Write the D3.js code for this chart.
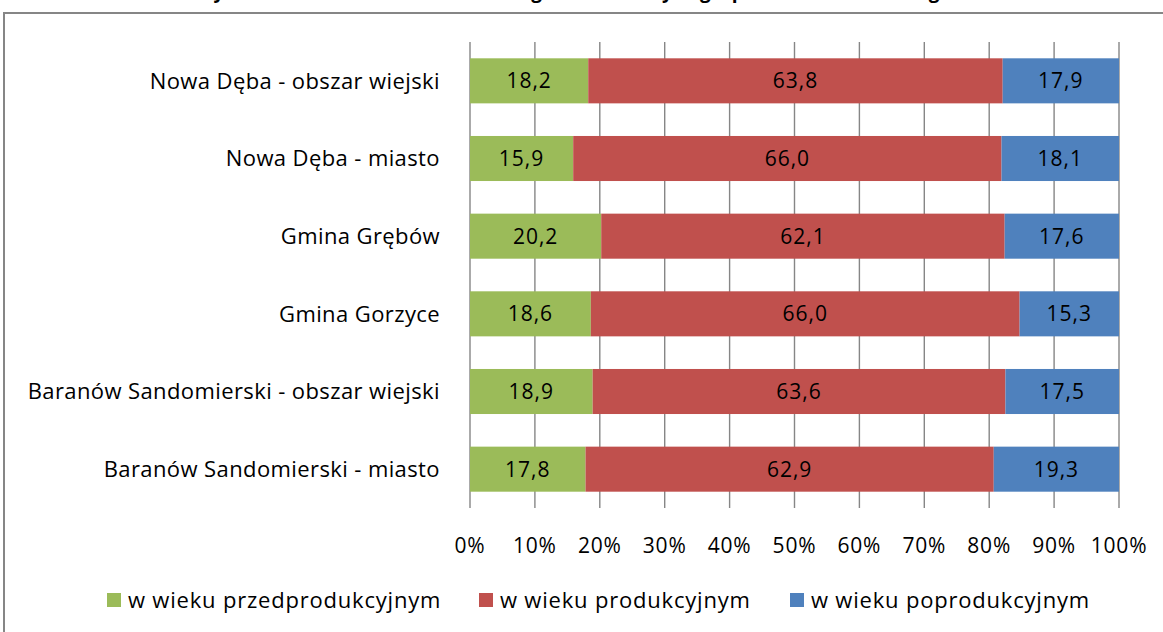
<!DOCTYPE html>
<html>
<head>
<meta charset="utf-8">
<script src="https://cdn.jsdelivr.net/npm/d3@7"></script>
<style>
  body { margin: 0; background: #fff; }
  svg text { font-family: "Open Sans", Lato, sans-serif; fill: #000; }
</style>
</head>
<body>
<svg id="chart" width="1163" height="632"></svg>
<script>
// categories top -> bottom
var categories = [
  "Nowa Dęba - obszar wiejski",
  "Nowa Dęba - miasto",
  "Gmina Grębów",
  "Gmina Gorzyce ",
  "Baranów Sandomierski - obszar wiejski",
  "Baranów Sandomierski - miasto"
];
var seriesNames = ["w wieku przedprodukcyjnym", "w wieku produkcyjnym", "w wieku poprodukcyjnym"];
var przed = [18.2, 15.9, 20.2, 18.6, 18.9, 17.8];
var prod  = [63.8, 66.0, 62.1, 66.0, 63.6, 62.9];
var popr  = [17.9, 18.1, 17.6, 15.3, 17.5, 19.3];
var ticks = [0, 0.1, 0.2, 0.3, 0.4, 0.5, 0.6, 0.7, 0.8, 0.9, 1];
var colors = ["#9BBB59", "#C0504D", "#4F81BD"];
var title = "Wykres 3. Struktura ludności według ekonomicznych grup wieku w ludności ogółem";

var data = categories.map(function(c, i) {
  var d = {category: c};
  d[seriesNames[0]] = przed[i];
  d[seriesNames[1]] = prod[i];
  d[seriesNames[2]] = popr[i];
  return d;
});

var svg = d3.select("#chart"),
    margin = {top: 42, left: 470},
    width = 649,
    height = 466;

// frame round the chart area (cut by the picture on right and bottom)
svg.append("path")
  .attr("d", "M4,640 V13 H1170")
  .attr("fill", "none")
  .attr("stroke", "#868686")
  .attr("stroke-width", 2);

// title, mostly above the visible area
svg.append("text")
  .attr("x", 591)
  .attr("y", -2)
  .attr("text-anchor", "middle")
  .style("font-weight", "bold")
  .style("font-size", "19px")
  .text(title);

var g = svg.append("g").attr("transform", "translate(" + margin.left + "," + margin.top + ")");

var x = d3.scaleLinear().domain([0, 1]).range([0, width]);
var y = d3.scaleBand().domain(categories).range([0, height]).paddingInner(0.42).paddingOuter(0.21);
var z = d3.scaleOrdinal().domain(seriesNames).range(colors);

// gridlines
g.append("g")
  .selectAll("line")
  .data(ticks)
  .enter().append("line")
    .attr("x1", function(d) { return x(d); })
    .attr("x2", function(d) { return x(d); })
    .attr("y1", 0)
    .attr("y2", height)
    .attr("stroke", "#868686")
    .attr("stroke-width", 1.4);

var stack = d3.stack().keys(seriesNames).offset(d3.stackOffsetExpand);
var layers = stack(data);

var serie = g.selectAll(".serie")
  .data(layers)
  .enter().append("g")
    .attr("class", "serie")
    .attr("fill", function(d) { return z(d.key); });

serie.selectAll("rect")
  .data(function(d) { return d; })
  .enter().append("rect")
    .attr("x", function(d) { return x(d[0]); })
    .attr("y", function(d) { return y(d.data.category); })
    .attr("width", function(d) { return x(d[1]) - x(d[0]); })
    .attr("height", y.bandwidth());

// value labels
layers.forEach(function(layer) {
  g.append("g").selectAll("text")
    .data(layer)
    .enter().append("text")
      .attr("x", function(d) { return (x(d[0]) + x(d[1])) / 2; })
      .attr("y", function(d) { return y(d.data.category) + y.bandwidth() / 2; })
      .attr("dy", "0.36em")
      .attr("text-anchor", "middle")
      .style("font-size", "21px")
      .style("letter-spacing", "1px")
      .text(function(d) { return d.data[layer.key].toFixed(1).replace(".", ","); });
});

// category labels
g.append("g").selectAll("text")
  .data(categories)
  .enter().append("text")
    .attr("x", -30)
    .attr("y", function(d) { return y(d) + y.bandwidth() / 2; })
    .attr("dy", "0.36em")
    .attr("text-anchor", "end")
    .style("font-size", "22px")
    .style("letter-spacing", "0.4px")
    .text(function(d) { return d; });

// x tick labels
g.append("g").selectAll("text")
  .data(ticks)
  .enter().append("text")
    .attr("x", function(d) { return x(d); })
    .attr("y", height + 37)
    .attr("dy", "0.36em")
    .attr("text-anchor", "middle")
    .style("font-size", "21px")
    .style("letter-spacing", "0.8px")
    .text(d3.format(".0%"));

// legend
var legendX = [107, 479, 790];
var legend = svg.selectAll(".legend")
  .data(seriesNames)
  .enter().append("g")
    .attr("class", "legend")
    .attr("transform", function(d, i) { return "translate(" + legendX[i] + ",593)"; });

legend.append("rect")
  .attr("width", 14)
  .attr("height", 14)
  .attr("fill", function(d) { return z(d); });

legend.append("text")
  .attr("x", 21)
  .attr("y", 7)
  .attr("dy", "0.36em")
  .style("font-size", "22px")
  .style("letter-spacing", "0.8px")
  .text(function(d) { return d; });
</script>
</body>
</html>
